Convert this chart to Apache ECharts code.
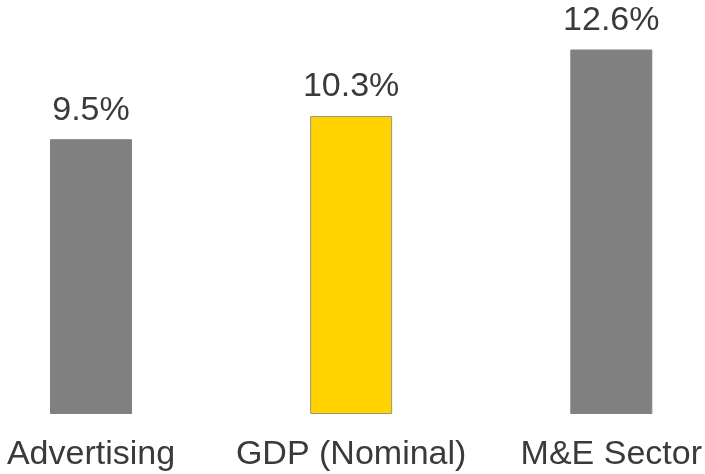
<!DOCTYPE html>
<html>
<head>
<meta charset="utf-8">
<script src="https://cdn.jsdelivr.net/npm/echarts@6/dist/echarts.min.js"></script>
<style>html,body{margin:0;padding:0;background:#fff}#c{width:705px;height:474px}</style>
</head>
<body>
<div id="c"></div>
<script>
const categories = ['Advertising', 'GDP (Nominal)', 'M&E Sector'];
const values = [9.5, 10.3, 12.6];
const barColors = ['#808080', '#FFD200', '#808080'];
const borderColors = ['#808080', '#9a9380', '#808080'];

const chart = echarts.init(document.getElementById('c'), null, {renderer: 'canvas'});
chart.setOption({
  animation: false,
  backgroundColor: '#ffffff',
  grid: {left: 91, right: 92, top: 9, bottom: 60, containLabel: false},
  xAxis: {
    type: 'category',
    data: categories,
    boundaryGap: false,
    axisLine: {show: false},
    axisTick: {show: false},
    axisLabel: {
      color: '#3a3a3a', fontSize: 34, fontFamily: 'Liberation Sans, Arial, sans-serif',
      margin: 24, interval: 0
    }
  },
  yAxis: {type: 'value', min: 0, max: 14, show: false, splitLine: {show: false}},
  series: [{
    type: 'bar',
    barWidth: 82,
    data: values.map((v, i) => ({
      value: v,
      itemStyle: {color: barColors[i], borderColor: borderColors[i], borderWidth: 1}
    })),
    label: {
      show: true, position: 'top', distance: 12,
      color: '#3a3a3a', fontSize: 34, fontFamily: 'Liberation Sans, Arial, sans-serif',
      formatter: p => p.value.toFixed(1) + '%'
    }
  }]
});
</script>
</body>
</html>
